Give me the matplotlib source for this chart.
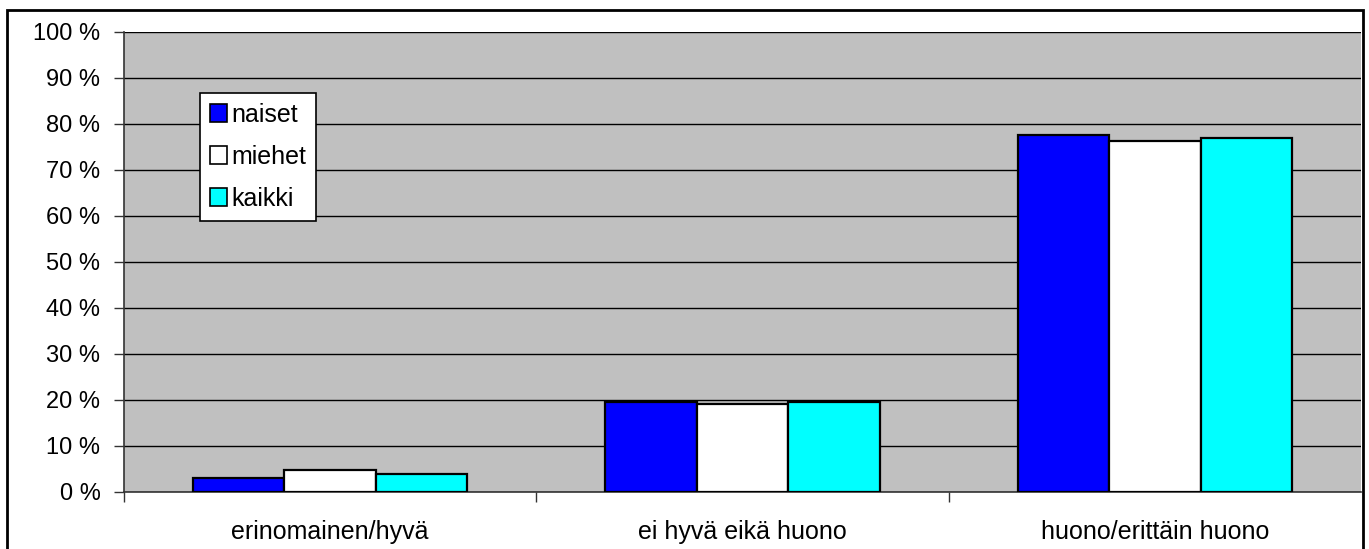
import numpy as np
import matplotlib.pyplot as plt
from matplotlib.patches import Rectangle

categories = ['erinomainen/hyvä', 'ei hyvä eikä huono', 'huono/erittäin huono']
naiset = [3.1, 19.5, 77.5]
miehet = [4.8, 19.2, 76.2]
kaikki = [3.9, 19.5, 77.0]
series = [('naiset', naiset, '#0000FF'), ('miehet', miehet, '#FFFFFF'), ('kaikki', kaikki, '#00FFFF')]
yticks = list(range(0, 101, 10))


def main():
    plt.rcParams['font.family'] = ['Liberation Sans', 'DejaVu Sans']
    fig = plt.figure(figsize=(13.69, 5.49), dpi=100)
    W, H = 1369, 549
    ax = fig.add_axes([124 / W, (549 - 492) / H, (1361 - 124) / W, (492 - 32) / H])
    ax.set_facecolor('#C0C0C0')

    x = np.arange(len(categories))
    bw = 0.222
    for i, (name, vals, col) in enumerate(series):
        ax.bar(x + (i - 1) * bw, vals, width=bw, color=col, edgecolor='black',
               linewidth=1.6, label=name, zorder=3)

    ax.set_xlim(-0.5, len(categories) - 0.5)
    ax.set_ylim(0, 100)
    ax.set_yticks(yticks)
    ax.set_yticklabels([f'{v} %' for v in yticks], fontsize=17)
    ax.yaxis.grid(True, color='black', linewidth=1.0, zorder=0)
    ax.set_axisbelow(True)

    ax.set_xticks(x)
    ax.set_xticklabels(categories, fontsize=18)
    ax.tick_params(axis='x', length=0, pad=20)
    ax.set_xticks(np.arange(-0.5, len(categories) - 1, 1), minor=True)
    ax.tick_params(axis='x', which='minor', length=7, width=1, color='#333333')
    ax.tick_params(axis='y', length=7, width=1, color='#333333', pad=10)

    for s in ['top', 'right']:
        ax.spines[s].set_visible(False)
    ax.spines['left'].set_color('#333333')
    ax.spines['bottom'].set_color('#333333')
    ax.spines['left'].set_linewidth(1.2)
    ax.spines['bottom'].set_linewidth(1.2)

    leg = ax.legend(loc='upper left', bbox_to_anchor=(0.0614, 0.868), fontsize=18,
                    frameon=True, fancybox=False, framealpha=1, edgecolor='black',
                    handlelength=0.7, handleheight=0.7, handletextpad=0.15,
                    labelspacing=0.72, borderpad=0.4, borderaxespad=0)
    leg.get_frame().set_linewidth(1.2)
    for h in leg.legend_handles:
        h.set_linewidth(1.2)

    fig.patches.append(Rectangle((6.5 / W, -0.01), (1363 - 6.5) / W, (549 - 9.5) / H + 0.01,
                                 transform=fig.transFigure, fill=False,
                                 edgecolor='black', linewidth=2))
    fig.savefig('out.png', dpi=100)


if __name__ == '__main__': main()
